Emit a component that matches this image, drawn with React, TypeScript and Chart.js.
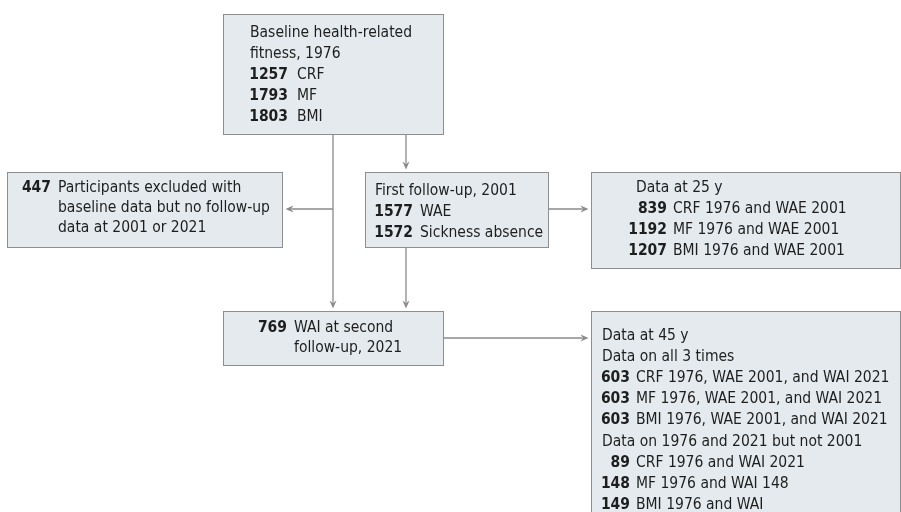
import React, { useEffect, useRef } from "react";
import { Chart, registerables } from "chart.js";

Chart.register(...registerables);

// ---------------- Data ----------------
const baselineTitle = ["Baseline health-related", "fitness, 1976"];
const baselineCounts = [1257, 1793, 1803];
const baselineLabels = ["CRF", "MF", "BMI"];

const excludedCount = 447;
const excludedLabels = [
  "Participants excluded with",
  "baseline data but no follow-up",
  "data at 2001 or 2021",
];

const followUpTitle = ["First follow-up, 2001"];
const followUpCounts = [1577, 1572];
const followUpLabels = ["WAE", "Sickness absence"];

const data25Title = ["Data at 25 y"];
const data25Counts = [839, 1192, 1207];
const data25Labels = ["CRF 1976 and WAE 2001", "MF 1976 and WAE 2001", "BMI 1976 and WAE 2001"];

const secondCount = 769;
const secondLabels = ["WAI at second", "follow-up, 2021"];

const data45Title = ["Data at 45 y", "Data on all 3 times"];
const allTimesCounts = [603, 603, 603];
const allTimesLabels = [
  "CRF 1976, WAE 2001, and WAI 2021",
  "MF 1976, WAE 2001, and WAI 2021",
  "BMI 1976, WAE 2001, and WAI 2021",
];
const notMidTitle = ["Data on 1976 and 2021 but not 2001"];
const notMidCounts = [89, 148, 149];
const notMidLabels = ["CRF 1976 and WAI 2021", "MF 1976 and WAI 148", "BMI 1976 and WAI"];

// ---------------- Row builders ----------------
type Row = { num?: number; text: string; title?: boolean };
const titles = (t: string[]): Row[] => t.map((text) => ({ text, title: true }));
const items = (nums: (number | undefined)[], labels: string[]): Row[] =>
  labels.map((text, i) => ({ num: nums[i], text }));

// ---------------- Layout (positions / sizes) ----------------
type Box = {
  x0: number; x1: number; y0: number; y1: number;
  textX: number; numRight: number; labelX: number;
  firstRow: number; lineH: number; rows: Row[];
};

const boxes: Box[] = [
  {
    x0: 223, x1: 444, y0: 14, y1: 134, textX: 250, numRight: 288, labelX: 297,
    firstRow: 33, lineH: 21,
    rows: [...titles(baselineTitle), ...items(baselineCounts, baselineLabels)],
  },
  {
    x0: 7, x1: 283, y0: 172, y1: 247, textX: 22, numRight: 51, labelX: 58,
    firstRow: 188, lineH: 20,
    rows: items([excludedCount], excludedLabels),
  },
  {
    x0: 365, x1: 549, y0: 172, y1: 247, textX: 375, numRight: 413, labelX: 420,
    firstRow: 191, lineH: 21,
    rows: [...titles(followUpTitle), ...items(followUpCounts, followUpLabels)],
  },
  {
    x0: 591, x1: 901, y0: 172, y1: 268, textX: 636, numRight: 667, labelX: 673,
    firstRow: 188, lineH: 21,
    rows: [...titles(data25Title), ...items(data25Counts, data25Labels)],
  },
  {
    x0: 223, x1: 444, y0: 311, y1: 365, textX: 258, numRight: 287, labelX: 294,
    firstRow: 328, lineH: 20,
    rows: items([secondCount], secondLabels),
  },
  {
    x0: 591, x1: 901, y0: 311, y1: 530, textX: 602, numRight: 630, labelX: 636,
    firstRow: 336, lineH: 21.1,
    rows: [
      ...titles(data45Title),
      ...items(allTimesCounts, allTimesLabels),
      ...titles(notMidTitle),
      ...items(notMidCounts, notMidLabels),
    ],
  },
];

type Connector = { pts: [number, number][]; head: boolean };
const connectors: Connector[] = [
  { pts: [[333, 134], [333, 311]], head: true },
  { pts: [[333, 209], [283, 209]], head: true },
  { pts: [[406, 134], [406, 172]], head: true },
  { pts: [[549, 209], [591, 209]], head: true },
  { pts: [[406, 247], [406, 311]], head: true },
  { pts: [[444, 338], [591, 338]], head: true },
];

// ---------------- Styles ----------------
const FONT_FAMILY = '"DejaVu Sans Condensed", "DejaVu Sans", sans-serif';
const FONT_SIZE = 15.5;
const BOX_FILL = "#e4eaed";
const BOX_STROKE = "#8e8e8e";
const LINE_COLOR = "#8a8a8a";
const TEXT_COLOR = "#1e1e1e";

const flowPlugin = {
  id: "flowchart",
  afterDraw(chart: any) {
    const ctx: CanvasRenderingContext2D = chart.ctx;
    const xs = chart.scales.x;
    const ys = chart.scales.y;
    const px = (v: number) => xs.getPixelForValue(v);
    const py = (v: number) => ys.getPixelForValue(v);

    ctx.save();
    // connectors
    ctx.strokeStyle = LINE_COLOR;
    ctx.fillStyle = LINE_COLOR;
    ctx.lineWidth = 1.3;
    for (const c of connectors) {
      const p = c.pts.map(([x, y]) => [px(x), py(y)]);
      const n = p.length;
      const [ex, ey] = p[n - 1];
      const [sx, sy] = p[n - 2];
      const dx = ex - sx, dy = ey - sy;
      const len = Math.hypot(dx, dy) || 1;
      const ux = dx / len, uy = dy / len;
      const gap = 2.5, hl = 8, hw = 3.5;
      const tipX = ex - ux * gap, tipY = ey - uy * gap;
      const baseX = tipX - ux * hl, baseY = tipY - uy * hl;
      ctx.beginPath();
      ctx.moveTo(p[0][0], p[0][1]);
      for (let i = 1; i < n - 1; i++) ctx.lineTo(p[i][0], p[i][1]);
      ctx.lineTo(c.head ? baseX + ux * 2 : ex, c.head ? baseY + uy * 2 : ey);
      ctx.stroke();
      if (c.head) {
        ctx.beginPath();
        ctx.moveTo(tipX, tipY);
        ctx.lineTo(baseX - uy * hw, baseY + ux * hw);
        ctx.lineTo(baseX + ux * 2.5, baseY + uy * 2.5);
        ctx.lineTo(baseX + uy * hw, baseY - ux * hw);
        ctx.closePath();
        ctx.fill();
      }
    }

    // boxes
    for (const b of boxes) {
      const x0 = px(b.x0), x1 = px(b.x1), y0 = py(b.y0), y1 = py(b.y1);
      ctx.fillStyle = BOX_FILL;
      ctx.fillRect(x0, y0, x1 - x0, y1 - y0);
      ctx.strokeStyle = BOX_STROKE;
      ctx.lineWidth = 1;
      ctx.strokeRect(Math.round(x0) + 0.5, Math.round(y0) + 0.5, Math.round(x1 - x0) - 1, Math.round(y1 - y0));

      ctx.fillStyle = TEXT_COLOR;
      ctx.textBaseline = "middle";
      (ctx as any).fontStretch = "condensed";
      b.rows.forEach((r, i) => {
        const y = py(b.firstRow + i * b.lineH);
        if (r.title) {
          ctx.font = `${FONT_SIZE}px ${FONT_FAMILY}`;
          ctx.textAlign = "left";
          ctx.fillText(r.text, px(b.textX), y);
          return;
        }
        if (r.num !== undefined) {
          ctx.font = `bold ${FONT_SIZE}px ${FONT_FAMILY}`;
          ctx.textAlign = "right";
          ctx.fillText(String(r.num), px(b.numRight), y);
        }
        ctx.font = `${FONT_SIZE}px ${FONT_FAMILY}`;
        ctx.textAlign = "left";
        ctx.fillText(r.text, px(b.labelX), y);
      });
    }
    ctx.restore();
  },
};

export default function App() {
  const ref = useRef<HTMLCanvasElement | null>(null);
  useEffect(() => {
    if (!ref.current) return;
    const anchors = boxes.map((b) => ({ x: (b.x0 + b.x1) / 2, y: (b.y0 + b.y1) / 2 }));
    const chart = new Chart(ref.current, {
      type: "scatter",
      data: {
        datasets: [
          { label: "boxes", data: anchors, pointRadius: 0, showLine: false },
        ],
      },
      options: {
        animation: false,
        responsive: false,
        devicePixelRatio: 1,
        layout: { padding: 0 },
        plugins: { legend: { display: false }, tooltip: { enabled: false } },
        events: [],
        scales: {
          x: { type: "linear", min: 0, max: 901, display: false },
          y: { type: "linear", min: 0, max: 512, reverse: true, display: false },
        },
      },
      plugins: [flowPlugin],
    });
    return () => chart.destroy();
  }, []);
  return (
    <div style={{ position: "fixed", left: 0, top: 0, width: 901, height: 512, background: "#fff" }}>
      <canvas ref={ref} width={901} height={512} style={{ display: "block" }} />
    </div>
  );
}
